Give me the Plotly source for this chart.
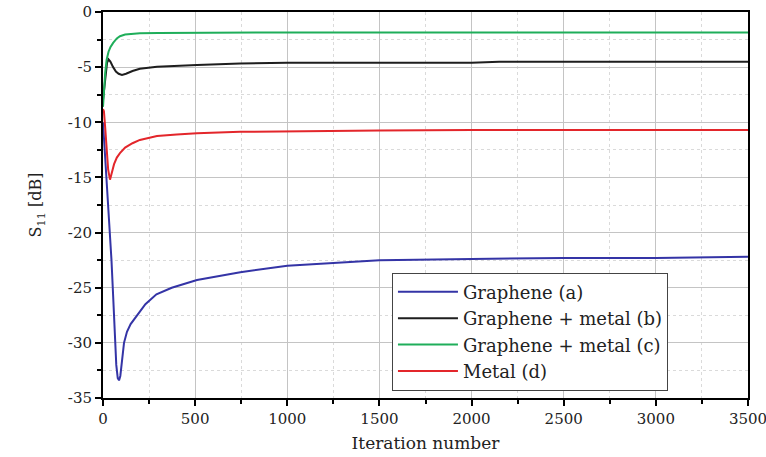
import plotly.graph_objects as go

# Graphene (a)
iter_a = [0, 10, 20, 30, 38, 46, 53, 60, 65, 72, 80, 87, 94, 102, 114, 130, 150, 185,
          230, 290, 373, 510, 745, 1000, 1500, 2000, 2500, 3000, 3500]
s11_a = [-10.0, -12.5, -15.0, -17.8, -20.0, -22.5, -25.0, -27.8, -30.0, -32.0, -33.2, -33.4,
         -33.0, -31.8, -30.0, -29.0, -28.3, -27.5, -26.5, -25.6, -25.0, -24.3, -23.6, -23.0,
         -22.5, -22.4, -22.3, -22.3, -22.2]

# Graphene + metal (b)
iter_b = [0, 8, 15, 22, 30, 40, 55, 70, 85, 103, 125, 160, 200, 293, 510, 744, 1000,
          1500, 2000, 2150, 2500, 3000, 3500]
s11_b = [-8.0, -6.5, -5.3, -4.6, -4.3, -4.5, -5.0, -5.4, -5.6, -5.7, -5.6, -5.35, -5.15,
         -4.96, -4.8, -4.66, -4.6, -4.6, -4.6, -4.52, -4.5, -4.5, -4.5]

# Graphene + metal (c)
iter_c = [0, 5, 12, 20, 30, 40, 55, 75, 92, 120, 160, 200, 300, 500, 1000, 1500, 2000,
          2500, 3000, 3500]
s11_c = [-8.6, -7.0, -5.5, -4.3, -3.6, -3.2, -2.8, -2.4, -2.2, -2.05, -1.98, -1.93, -1.9,
         -1.87, -1.85, -1.85, -1.85, -1.85, -1.85, -1.85]

# Metal (d)
iter_d = [0, 5, 12, 20, 28, 38, 48, 60, 75, 92, 120, 160, 200, 293, 400, 510, 744, 1000,
          1500, 2000, 2500, 3000, 3500]
s11_d = [-8.8, -9.0, -10.5, -12.5, -14.3, -15.2, -14.6, -13.8, -13.2, -12.8, -12.3, -11.9,
         -11.6, -11.25, -11.1, -11.0, -10.86, -10.8, -10.75, -10.7, -10.7, -10.7, -10.7]

x_ticks = [0, 500, 1000, 1500, 2000, 2500, 3000, 3500]
x_tick_labels = ["0", "500", "1000", "1500", "2000", "2500", "3000", "3500"]
y_ticks = [0, -5, -10, -15, -20, -25, -30, -35]
y_tick_labels = ["0", "-5", "-10", "-15", "-20", "-25", "-30", "-35"]

series = [
    ("Graphene (a)", iter_a, s11_a, "#3434a6"),
    ("Graphene + metal (b)", iter_b, s11_b, "#1e1e1e"),
    ("Graphene + metal (c)", iter_c, s11_c, "#1fae5a"),
    ("Metal (d)", iter_d, s11_d, "#e3262b"),
]

fig = go.Figure()
for name, xs, ys, color in series:
    fig.add_trace(go.Scatter(x=xs, y=ys, mode="lines", name=name,
                             line=dict(color=color, width=2)))

serif = "DejaVu Serif"
axis_common = dict(
    showline=True, mirror=True, linecolor="black", linewidth=2,
    ticks="outside", ticklen=6, tickwidth=1.5, tickcolor="black",
    showgrid=True, gridcolor="#c4c4c4", gridwidth=1,
    zeroline=False, automargin=False, ticklabeloverflow="allow",
    tickfont=dict(family=serif, size=15, color="#222"),
)

fig.update_xaxes(
    range=[0, 3500], tickvals=x_ticks, ticktext=x_tick_labels,
    minor=dict(dtick=250, tick0=0, ticklen=4, ticks="outside", tickcolor="black",
               showgrid=True, gridcolor="#dadada", griddash="dot"),
    title=dict(text="Iteration number", font=dict(family=serif, size=17, color="#222"),
               standoff=10),
    **axis_common,
)
fig.update_yaxes(
    range=[-35, 0], tickvals=y_ticks, ticktext=y_tick_labels,
    minor=dict(dtick=2.5, tick0=0, ticklen=4, ticks="outside", tickcolor="black",
               showgrid=True, gridcolor="#dadada", griddash="dot"),
    title=dict(text="S<sub>11</sub> [dB]", font=dict(family=serif, size=16, color="#222"),
               standoff=22),
    **axis_common,
)

fig.update_layout(
    width=766, height=457,
    margin=dict(l=103, r=18, t=12, b=59),
    paper_bgcolor="white", plot_bgcolor="white",
    font=dict(family=serif),
    showlegend=True,
    legend=dict(
        x=0.448, y=0.325, xanchor="left", yanchor="top",
        bgcolor="white", bordercolor="#444", borderwidth=1,
        font=dict(family=serif, size=18, color="#222"),
        tracegroupgap=0, itemwidth=60,
    ),
)

fig.write_html("out.html")
